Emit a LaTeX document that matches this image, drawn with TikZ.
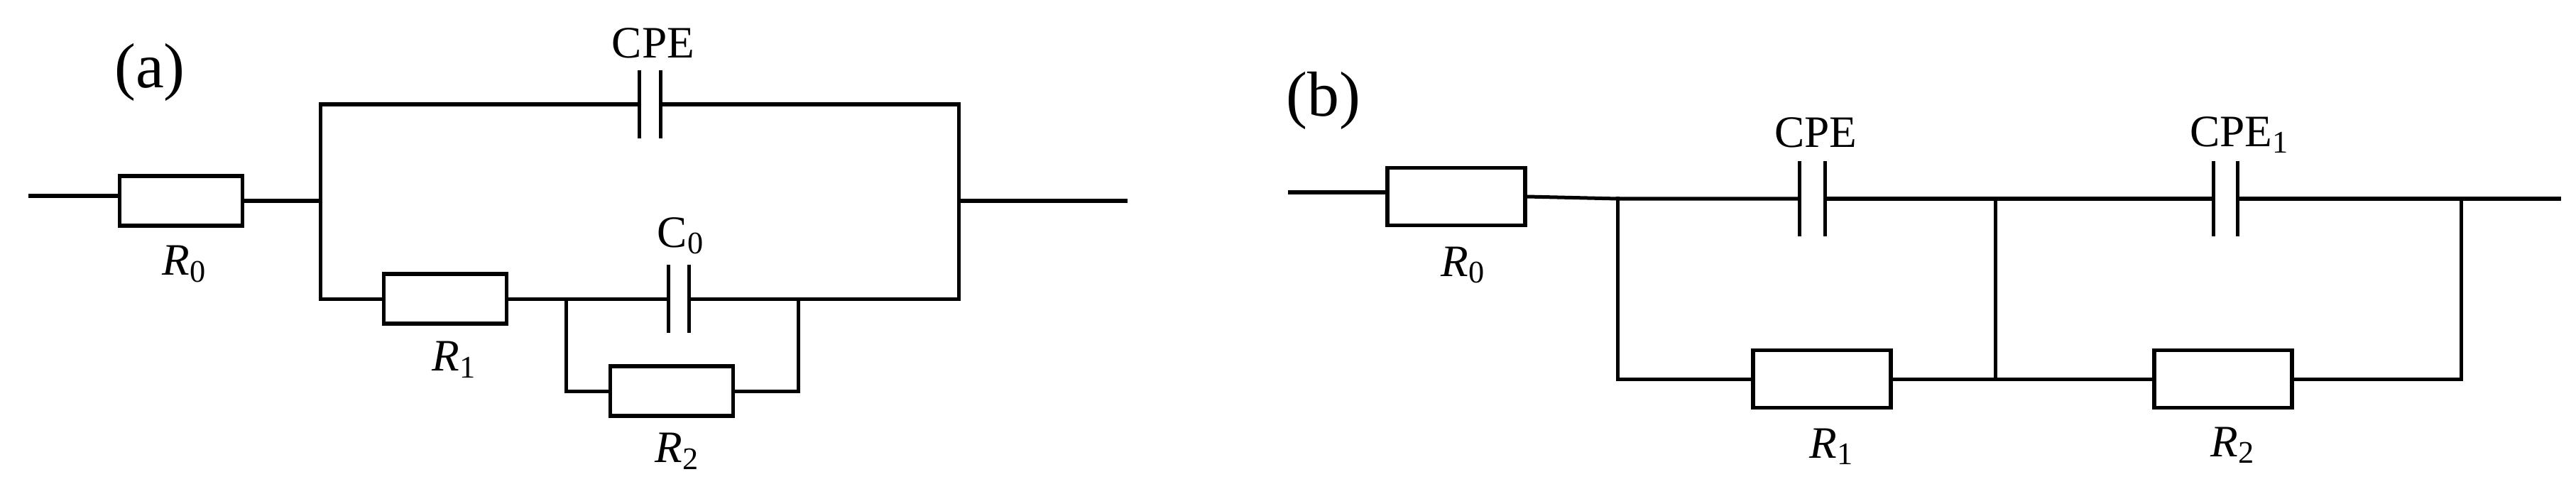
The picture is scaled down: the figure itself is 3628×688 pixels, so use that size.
\documentclass[tikz,border=0pt]{standalone}
\usepackage{fontspec}
\setmainfont{Liberation Serif}
\usetikzlibrary{positioning}
\tikzset{
	every node/.style={
		align=center,
	},
	wire/.style={line width=0.05cm, line join=miter, line cap=rect},
	resistorA/.style={draw, line width=0.055cm, fill=white, minimum width=1.73cm, minimum height=0.7cm, inner sep=0},
	resistorB/.style={draw, line width=0.055cm, fill=white, minimum width=1.94cm, minimum height=0.81cm, inner sep=0},
	plateA/.style={fill=black, inner sep=0, minimum width=0.05cm, minimum height=0.95cm},
	plateB/.style={fill=black, inner sep=0, minimum width=0.05cm, minimum height=1.06cm},
	tag/.style={inner sep=0, font=\fontsize{18pt}{20pt}\selectfont},
	panel/.style={inner sep=0, font=\fontsize{25.5pt}{28pt}\selectfont},
}
\begin{document}
\begin{tikzpicture}[x=0.01cm, y=-0.01cm]
        \useasboundingbox (0,0) rectangle (3628,688);
        \node[panel] (panelA) at (211,102) {(a)};
        \node[panel] (panelB) at (1864,142) {(b)};

        \coordinate (aIn) at (43,276);
        \coordinate (aLeft) at (451,283);
        \coordinate (aRight) at (1350,283);
        \coordinate (aOut) at (1585,283);
        \coordinate (aTopL) at (451,147);
        \coordinate (aTopR) at (1350,147);
        \coordinate (aBotL) at (451,421);
        \coordinate (aBotR) at (1350,421);
        \coordinate (aJoinL) at (797,421);
        \coordinate (aJoinR) at (1124,421);
        \node[resistorA] (aR0) at (255,283) {};
        \node[resistorA] (aR1) at (627,421) {};
        \node[resistorA] (aR2) at (946,551) {};
        \node[plateA] (aCpeL) at (900,147) {};
        \node[plateA] (aCpeR) at (930,147) {};
        \node[plateA] (aC0L) at (941,421) {};
        \node[plateA] (aC0R) at (970,421) {};
        \node[tag, above=0.16cm of aCpeL, xshift=0.2cm] (aCpeTag) {CPE};
        \node[tag, above=0.14cm of aC0L, xshift=0.18cm] (aC0Tag) {C\textsubscript{0}};
        \node[tag, below=0.25cm of aR0, xshift=0.05cm] (aR0Tag) {\textit{R}\textsubscript{0}};
        \node[tag, below=0.22cm of aR1, xshift=0.13cm] (aR1Tag) {\textit{R}\textsubscript{1}};
        \node[tag, below=0.21cm of aR2, xshift=0.08cm] (aR2Tag) {\textit{R}\textsubscript{2}};
        \draw[wire] (aIn) -- (aIn -| aR0.west);
        \draw[wire] (aR0.east) -- (aLeft);
        \draw[wire] (aCpeL) -- (aTopL) -- (aBotL) -- (aR1.west);
        \draw[wire] (aCpeR) -- (aTopR) -- (aBotR) -- (aC0R);
        \draw[wire] (aR1.east) -- (aC0L);
        \draw[wire] (aRight) -- (aOut);
        \draw[wire] (aJoinL) |- (aR2.west);
        \draw[wire] (aJoinR) |- (aR2.east);

        \coordinate (bIn) at (1816,271);
        \coordinate (bOut) at (3604,280);
        \coordinate (bTopA) at (2278,280);
        \coordinate (bTopB) at (2810,280);
        \coordinate (bTopC) at (3466,280);
        \coordinate (bBotA) at (2278,534);
        \coordinate (bBotB) at (2810,534);
        \coordinate (bBotC) at (3466,534);
        \node[resistorB] (bR0) at (2051,277) {};
        \node[resistorB] (bR1) at (2566,534) {};
        \node[resistorB] (bR2) at (3131,534) {};
        \node[plateB] (bCpeL) at (2534,280) {};
        \node[plateB] (bCpeR) at (2570,280) {};
        \node[plateB] (bCpe1L) at (3117,280) {};
        \node[plateB] (bCpe1R) at (3151,280) {};
        \node[tag, above=0.17cm of bCpeL, xshift=0.23cm] (bCpeTag) {CPE};
        \node[tag, above=0.1cm of bCpe1L, xshift=0.37cm] (bCpe1Tag) {CPE\textsubscript{1}};
        \node[tag, below=0.27cm of bR0, xshift=0.1cm] (bR0Tag) {\textit{R}\textsubscript{0}};
        \node[tag, below=0.26cm of bR1, xshift=0.14cm] (bR1Tag) {\textit{R}\textsubscript{1}};
        \node[tag, below=0.24cm of bR2, xshift=0.14cm] (bR2Tag) {\textit{R}\textsubscript{2}};
        \draw[wire] (bIn) -- (bIn -| bR0.west);
        \draw[wire] (bR0.east) -- (bTopA) -- (bCpeL);
        \draw[wire] (bCpeR) -- (bCpe1L);
        \draw[wire] (bCpe1R) -- (bOut);
        \draw[wire] (bTopA) -- (bBotA) -- (bR1.west);
        \draw[wire] (bR1.east) -- (bR2.west);
        \draw[wire] (bR2.east) -- (bBotC) -- (bTopC);
        \draw[wire] (bTopB) -- (bBotB);
\end{tikzpicture}
\end{document}
